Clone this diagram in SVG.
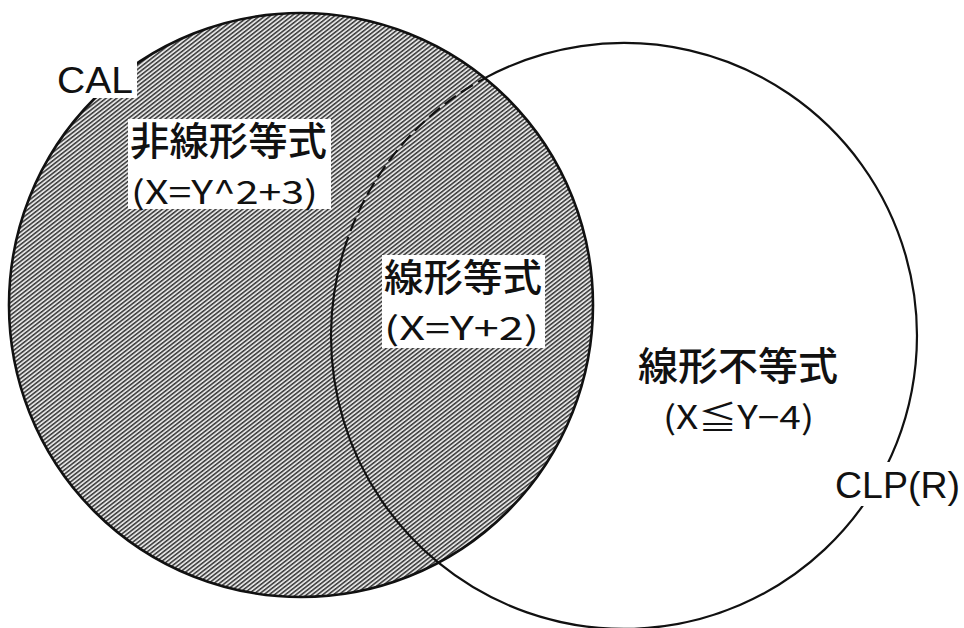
<svg xmlns="http://www.w3.org/2000/svg" width="964" height="628" viewBox="0 0 964 628">
<style>
.lat{font-family:"Liberation Sans","Noto Sans",Arial,sans-serif;fill:#111;}
.jp{font-family:"Noto Sans CJK JP","Noto Sans",sans-serif;font-weight:500;fill:#111;}
.eq{font-family:"Noto Sans CJK JP","Noto Sans",sans-serif;font-weight:400;fill:#111;}
.box{fill:#fff;}
.edge{fill:none;stroke:#111;stroke-width:2.2;}
</style>
<defs>
<pattern id="hatch" patternUnits="userSpaceOnUse" width="3.3" height="3.3" patternTransform="rotate(-38)">
<rect width="3.3" height="3.3" fill="#e2e2e2"/>
<rect width="3.3" height="1.5" fill="#3a3a3a"/>
</pattern>
</defs>
<rect width="964" height="628" fill="#fff"/>
<g id="node-CLP">
<circle cx="624" cy="336" r="293" fill="#fff"/>
</g>
<g id="node-CAL">
<circle cx="301" cy="305" r="292" fill="url(#hatch)" stroke="#111" stroke-width="2.6"/>
</g>
<g id="connectors">
<path class="edge" d="M484.8,78.1 A293,293 0 1 1 438.4,562.7"/>
<path class="edge" d="M438.4,562.7 A293,293 0 0 1 343.9,250"/>
<path class="edge" d="M343.9,250 A293,293 0 0 1 484.8,78.1" stroke-dasharray="14 6"/>
</g>
<g id="label-CAL">
<rect class="box" x="55" y="60" width="82" height="38"/>
<text class="lat" x="57" y="93" font-size="37" textLength="76" lengthAdjust="spacingAndGlyphs">CAL</text>
</g>
<g id="label-nonlinear">
<rect class="box" x="128" y="119" width="203" height="90"/>
<text class="jp" x="130" y="155" font-size="39" textLength="197" lengthAdjust="spacingAndGlyphs">非線形等式</text>
<text class="eq" x="131" y="204" font-size="32" textLength="187" lengthAdjust="spacingAndGlyphs">(X=Y^2+3)</text>
</g>
<g id="label-linear-eq">
<rect class="box" x="382" y="255" width="163" height="93"/>
<text class="jp" x="384" y="291" font-size="38" textLength="158" lengthAdjust="spacingAndGlyphs">線形等式</text>
<text class="eq" x="384" y="340" font-size="32" textLength="155" lengthAdjust="spacingAndGlyphs">(X=Y+2)</text>
</g>
<g id="label-linear-ineq">
<text class="jp" x="638" y="380" font-size="39" textLength="200" lengthAdjust="spacingAndGlyphs">線形不等式</text>
<text class="eq" x="663" y="429" font-size="32" textLength="151" lengthAdjust="spacingAndGlyphs">(X≦Y−4)</text>
</g>
<g id="label-CLP">
<rect class="box" x="832" y="462" width="132" height="44"/>
<text class="lat" x="835" y="498" font-size="37" textLength="125" lengthAdjust="spacingAndGlyphs">CLP(R)</text>
</g>
</svg>
